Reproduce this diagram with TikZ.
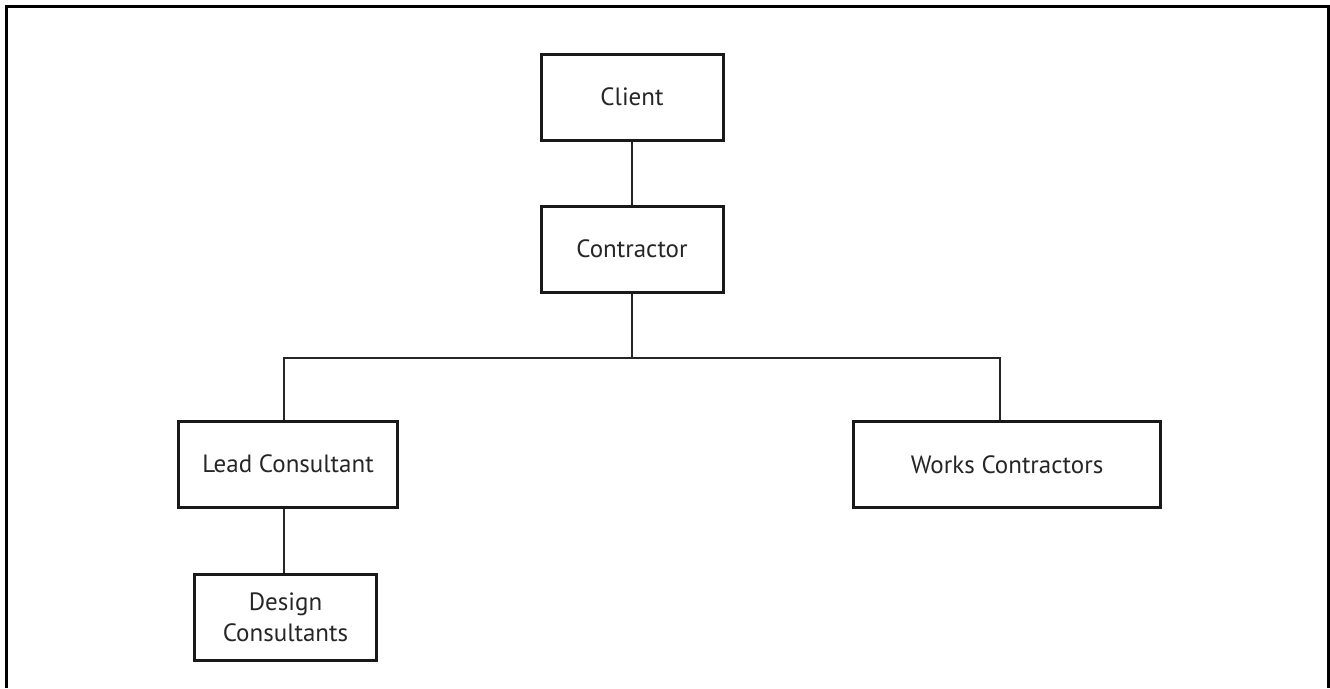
\documentclass[tikz,border=0pt]{standalone}
\usepackage{fontspec}
\setmainfont{PT Sans}
\begin{document}
\begin{tikzpicture}[x=1pt,y=-1pt,
  orgbox/.style={draw=black!90,line width=3pt,minimum height=86pt,align=center,
    font=\fontsize{25}{31}\selectfont,text=black!85},
  link/.style={draw=black!85,line width=1.4pt}]
\useasboundingbox (0,0) rectangle (1330,688);
% outer frame (open at the bottom)
\draw[line width=3pt] (6.5,688) -- (6.5,6.5) -- (1328.5,6.5) -- (1328.5,688);
% boxes
\node[orgbox,minimum width=182pt] (client) at (632,97) {Client};
\node[orgbox,minimum width=182pt] (contractor) at (632,249) {Contractor};
\node[orgbox,minimum width=219pt] (lead) at (288,464) {Lead Consultant};
\node[orgbox,minimum width=307pt] (works) at (1007,464.5) {Works Contractors};
\node[orgbox,minimum width=182pt] (design) at (285.5,617.5) {Design\\Consultants};
% connectors
\coordinate (bus) at (632,358);
\draw[link] (client) -- (contractor);
\draw[link] (contractor) -- (bus);
\draw[link] (lead.north -| 284,0) |- (bus) -| (works.north -| 1000,0);
\draw[link] (lead.south -| 284,0) -- (design.north -| 284,0);
\end{tikzpicture}
\end{document}
